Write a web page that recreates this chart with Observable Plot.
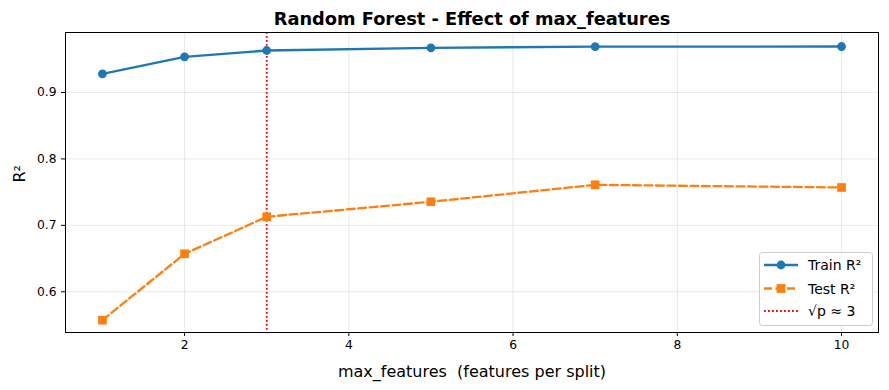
<!DOCTYPE html>
<html>
<head>
<meta charset="utf-8">
<script src="https://cdn.jsdelivr.net/npm/d3@7"></script>
<script src="https://cdn.jsdelivr.net/npm/@observablehq/plot@0.6"></script>
<style>
  html, body { margin: 0; padding: 0; background: #fff; }
  #chart svg { display: block; font-family: "DejaVu Sans", sans-serif; }
</style>
</head>
<body>
<div id="chart"></div>
<script>
const maxFeatures = [1, 2, 3, 5, 7, 10];
const trainR2 = [0.9281, 0.9537, 0.9632, 0.9673, 0.9690, 0.9692];
const testR2 = [0.5573, 0.6572, 0.7129, 0.7355, 0.7610, 0.7570];
const sqrtP = 3;
const xTicks = [2, 4, 6, 8, 10];
const yTicks = [0.6, 0.7, 0.8, 0.9];
const titleText = "Random Forest - Effect of max_features";
const xLabel = "max_features  (features per split)";
const yLabel = "R²";
const legendLabels = ["Train R²", "Test R²", "√p ≈ 3"];

const train = maxFeatures.map((x, i) => ({x, y: trainR2[i]}));
const test = maxFeatures.map((x, i) => ({x, y: testR2[i]}));

const W = 889, H = 390;
const blue = "#1f77b4", orange = "#ff7f0e";

const plot = Plot.plot({
  width: W,
  height: H,
  marginLeft: 65,
  marginRight: 11,
  marginTop: 32,
  marginBottom: 58,
  style: {fontFamily: "DejaVu Sans, sans-serif", background: "#fff"},
  x: {domain: [0.55, 10.45]},
  y: {domain: [0.5387, 0.9903]},
  marks: [
    Plot.gridX(xTicks, {stroke: "#b0b0b0", strokeOpacity: 0.35, strokeWidth: 0.8}),
    Plot.gridY(yTicks, {stroke: "#b0b0b0", strokeOpacity: 0.35, strokeWidth: 0.8}),
    Plot.ruleX([sqrtP], {stroke: "red", strokeWidth: 1.8, strokeDasharray: "1.8,2.2"}),
    Plot.line(train, {x: "x", y: "y", stroke: blue, strokeWidth: 2.3}),
    Plot.dot(train, {x: "x", y: "y", r: 4.4, fill: blue, stroke: "none"}),
    Plot.line(test, {x: "x", y: "y", stroke: orange, strokeWidth: 2.3, strokeDasharray: "8,3.5"}),
    Plot.dot(test, {x: "x", y: "y", symbol: "square", r: 4.9, fill: orange, stroke: "none"}),
    Plot.frame({stroke: "#000", strokeWidth: 1}),
    Plot.axisX(xTicks, {tickSize: 4, tickPadding: 4, fontSize: 12.3, label: null, stroke: "#000", fill: "#000"}),
    Plot.axisY(yTicks, {tickSize: 4, tickPadding: 5, fontSize: 12.3, label: null, tickFormat: d3.format(".1f"), stroke: "#000", fill: "#000"}),
    Plot.text([titleText], {frameAnchor: "top", dy: -20, fontSize: 17.8, fontWeight: "bold", fill: "#000"}),
    Plot.text([xLabel], {frameAnchor: "bottom", dy: 44, fontSize: 16, fill: "#000"}),
    Plot.text([yLabel], {frameAnchor: "left", dx: -46, rotate: -90, fontSize: 16, fill: "#000"})
  ]
});

document.getElementById("chart").appendChild(plot);

// legend (inside axes, lower right)
const svg = d3.select(plot);
const lg = svg.append("g").attr("font-family", "DejaVu Sans, sans-serif").attr("text-anchor", "start");
lg.append("rect")
  .attr("x", 759.5).attr("y", 252.5).attr("width", 113).attr("height", 73)
  .attr("rx", 3).attr("fill", "#fff").attr("fill-opacity", 0.85)
  .attr("stroke", "#cccccc").attr("stroke-width", 1);
const rowsY = [265, 288.5, 311];
const styles = [
  {color: blue, dash: null, marker: "circle", w: 2.3},
  {color: orange, dash: "8,3.5", marker: "square", w: 2.3},
  {color: "red", dash: "1.8,2.2", marker: null, w: 1.8}
];
legendLabels.forEach((lab, i) => {
  const y = rowsY[i], s = styles[i];
  lg.append("line").attr("x1", 764).attr("x2", 798).attr("y1", y).attr("y2", y)
    .attr("stroke", s.color).attr("stroke-width", s.w)
    .attr("stroke-dasharray", s.dash);
  if (s.marker === "circle") {
    lg.append("circle").attr("cx", 781).attr("cy", y).attr("r", 4.4).attr("fill", s.color);
  } else if (s.marker === "square") {
    lg.append("rect").attr("x", 781 - 4.4).attr("y", y - 4.4).attr("width", 8.8).attr("height", 8.8).attr("fill", s.color);
  }
  lg.append("text").attr("x", 808).attr("y", y).attr("dy", "0.36em")
    .attr("text-anchor", "start")
    .attr("font-size", 14).attr("fill", "#000").text(lab);
});
</script>
</body>
</html>
